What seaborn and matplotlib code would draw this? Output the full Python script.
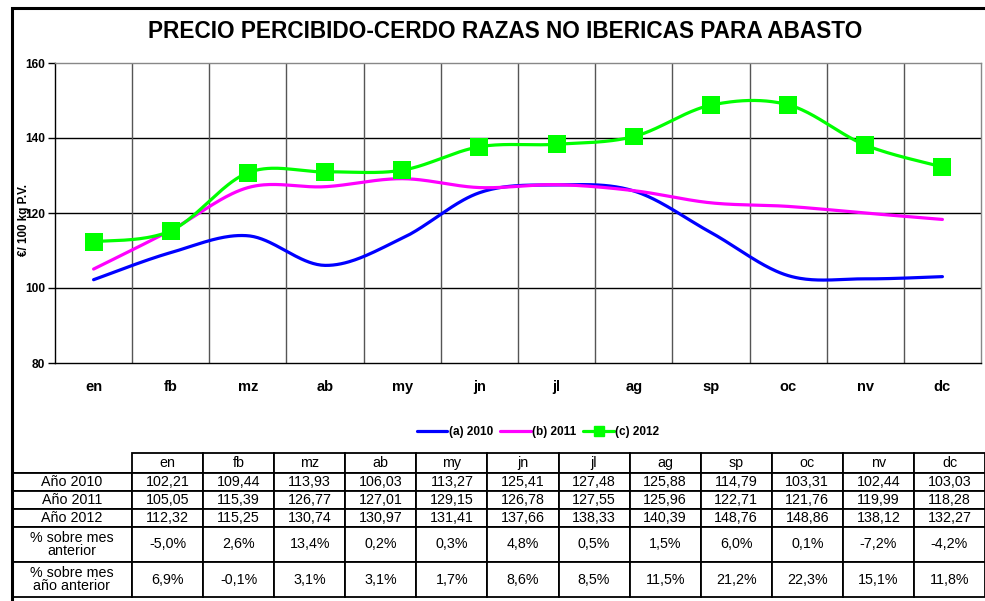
import numpy as np
import pandas as pd
import matplotlib
matplotlib.use('Agg')
import matplotlib.pyplot as plt
from matplotlib.lines import Line2D
from matplotlib.patches import Rectangle
import seaborn as sns

months = ['en', 'fb', 'mz', 'ab', 'my', 'jn', 'jl', 'ag', 'sp', 'oc', 'nv', 'dc']
precio_2010 = [102.21, 109.44, 113.93, 106.03, 113.27, 125.41, 127.48, 125.88, 114.79, 103.31, 102.44, 103.03]
precio_2011 = [105.05, 115.39, 126.77, 127.01, 129.15, 126.78, 127.55, 125.96, 122.71, 121.76, 119.99, 118.28]
precio_2012 = [112.32, 115.25, 130.74, 130.97, 131.41, 137.66, 138.33, 140.39, 148.76, 148.86, 138.12, 132.27]
pct_mes_anterior = ['-5,0%', '2,6%', '13,4%', '0,2%', '0,3%', '4,8%', '0,5%', '1,5%', '6,0%', '0,1%', '-7,2%', '-4,2%']
pct_anio_anterior = ['6,9%', '-0,1%', '3,1%', '3,1%', '1,7%', '8,6%', '8,5%', '11,5%', '21,2%', '22,3%', '15,1%', '11,8%']
series_labels = ['(a) 2010', '(b) 2011', '(c) 2012']
row_labels = ['Año 2010', 'Año 2011', 'Año 2012', '% sobre mes\nanterior', '% sobre mes\naño anterior']
colors = ['#0000FF', '#FF00FF', '#00FF00']

sns.set_theme(style='white')
plt.rcParams['font.family'] = ['Liberation Sans', 'DejaVu Sans']
plt.rcParams['text.color'] = 'black'
plt.rcParams['xtick.color'] = 'black'
plt.rcParams['ytick.color'] = 'black'
plt.rcParams['axes.labelcolor'] = 'black'

W, H = 985, 601


def smooth(values, n=40):
    """Excel-like smoothed line (Catmull-Rom bezier through the points)."""
    y = np.asarray(values, dtype=float)
    x = np.arange(len(y), dtype=float)
    xs, ys = [], []
    for i in range(len(y) - 1):
        i0, i3 = max(i - 1, 0), min(i + 2, len(y) - 1)
        p0 = np.array([x[i], y[i]])
        p3 = np.array([x[i + 1], y[i + 1]])
        c1 = p0 + (np.array([x[i + 1], y[i + 1]]) - np.array([x[i0], y[i0]])) / 6
        c2 = p3 - (np.array([x[i3], y[i3]]) - np.array([x[i], y[i]])) / 6
        t = np.linspace(0, 1, n)[:, None]
        pts = (1 - t) ** 3 * p0 + 3 * (1 - t) ** 2 * t * c1 + 3 * (1 - t) * t ** 2 * c2 + t ** 3 * p3
        xs.extend(pts[:, 0])
        ys.extend(pts[:, 1])
    return np.array(xs), np.array(ys)


fig = plt.figure(figsize=(W / 100, H / 100), dpi=100)

# outer chart frame
fig.patches.append(Rectangle((12 / W, -0.01), 1.0, 1 - 8 / H + 0.01, transform=fig.transFigure,
                             fill=False, edgecolor='black', linewidth=2.2, zorder=0))

ax = fig.add_axes([55 / W, 1 - 363 / H, (981 - 55) / W, 300 / H])

for vals, col in zip([precio_2010, precio_2011, precio_2012], colors):
    xs, ys = smooth(vals)
    sns.lineplot(x=xs, y=ys, color=col, linewidth=2.3, ax=ax, sort=False, estimator=None)

sns.scatterplot(x=np.arange(len(months)), y=precio_2012, marker='s', s=165, color=colors[2],
                edgecolor='none', ax=ax, zorder=5)

ax.set_xlim(-0.5, len(months) - 0.5)
ax.set_ylim(80, 160)
ax.set_yticks([80, 100, 120, 140, 160])
ax.set_yticklabels(['80', '100', '120', '140', '160'], fontsize=8.6, fontweight='bold')
ax.set_xticks(np.arange(len(months)))
ax.set_xticklabels(months, fontsize=10.5, fontweight='bold')
ax.set_xticks(np.arange(len(months) + 1) - 0.5, minor=True)
ax.tick_params(axis='x', which='major', length=0, pad=12)
ax.tick_params(axis='x', which='minor', length=5, width=1, color='black', direction='out')
ax.tick_params(axis='y', length=5, width=1, color='black', direction='out', pad=2, left=True)
ax.grid(False)
for yv in [100, 120, 140]:
    ax.axhline(yv, color='black', linewidth=1, zorder=0.5)
for xv in np.arange(1, len(months)) - 0.5:
    ax.axvline(xv, color='#555555', linewidth=1, zorder=0.5)
ax.spines['left'].set_color('black')
ax.spines['bottom'].set_color('black')
ax.spines['top'].set_color('#888888')
ax.spines['right'].set_color('#888888')
for s in ax.spines.values():
    s.set_linewidth(1)
ax.set_xlabel('')
ax.set_ylabel('')

fig.text(505 / W, 1 - 32 / H, 'PRECIO PERCIBIDO-CERDO RAZAS NO IBERICAS PARA ABASTO',
         ha='center', va='center', fontsize=16.3, fontweight='bold')
fig.text(24 / W, 1 - 220 / H, '€/ 100 kg P.V.', rotation=90, ha='center', va='center',
         fontsize=8.4, fontweight='bold')

handles = [Line2D([], [], color=colors[0], linewidth=2.3),
           Line2D([], [], color=colors[1], linewidth=2.3),
           Line2D([], [], color=colors[2], linewidth=2.3, marker='s', markersize=6.5)]
fig.legend(handles, series_labels, loc='center', bbox_to_anchor=(538 / W, 1 - 432 / H), ncol=3,
           frameon=False, prop={'size': 8.5, 'weight': 'bold'}, handlelength=2.6,
           handletextpad=0.1, columnspacing=0.6)

# data table
tax = fig.add_axes([12 / W, 1 - 597 / H, (985 - 12) / W, (597 - 453) / H])
tax.axis('off')
fmt = lambda v: f'{v:.2f}'.replace('.', ',')
cell_text = [[''] + months,
             [row_labels[0]] + [fmt(v) for v in precio_2010],
             [row_labels[1]] + [fmt(v) for v in precio_2011],
             [row_labels[2]] + [fmt(v) for v in precio_2012],
             [row_labels[3]] + pct_mes_anterior,
             [row_labels[4]] + pct_anio_anterior]
row_h = np.array([20, 18, 18, 18, 35, 35], dtype=float)
row_h = row_h / row_h.sum()
first_w = 120 / 973
other_w = (1 - first_w) / len(months)
tbl = tax.table(cellText=cell_text, cellLoc='center', loc='center', bbox=[0, 0, 1, 1])
tbl.auto_set_font_size(False)
for (r, c), cell in tbl.get_celld().items():
    cell.set_height(row_h[r])
    cell.set_width(first_w if c == 0 else other_w)
    cell.set_linewidth(1.3)
    cell.set_edgecolor('black')
    cell.get_text().set_fontsize(10.3)
    cell.get_text().set_color('black')
    if r == 0 and c == 0:
        cell.visible_edges = 'B'
    if c == 0:
        cell.get_text().set_linespacing(0.95)

fig.savefig('out.png', dpi=100)
